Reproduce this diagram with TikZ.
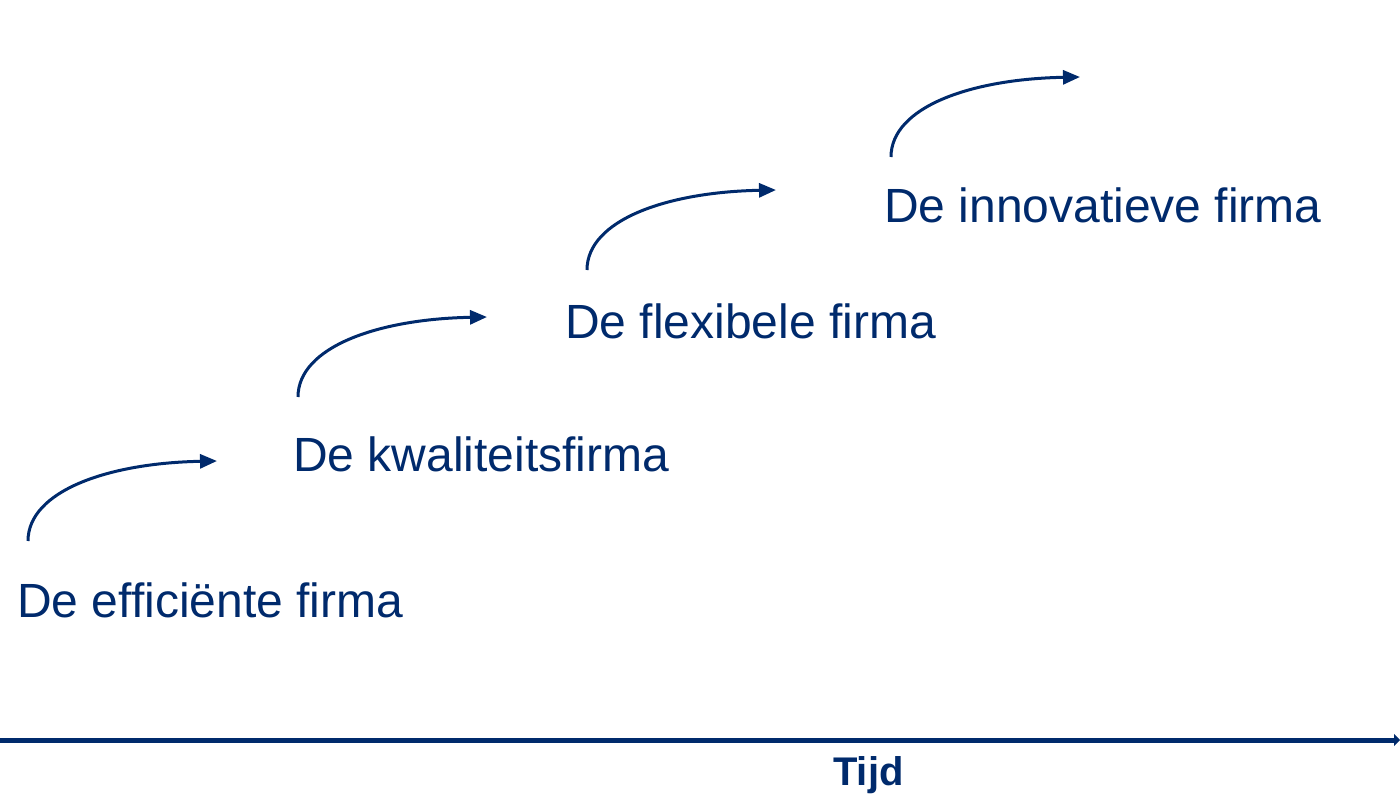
\documentclass[tikz,border=0pt]{standalone}
\usepackage{fontspec}
\setmainfont{Liberation Sans}
\usetikzlibrary{arrows.meta}
\definecolor{navy}{HTML}{002A6C}
\begin{document}
\begin{tikzpicture}[x=1pt,y=-1pt,
  lbl/.style={anchor=base west,inner sep=0pt,text=navy,font=\fontsize{48}{52}\selectfont},
  curvearrow/.style={draw=navy,line width=3pt,-{Triangle[length=17pt,width=14pt]}},
  axis/.style={draw=navy,line width=5pt,-{Triangle[length=6pt,width=12pt]}}]
\useasboundingbox (0,0) rectangle (1400,795);
\node[lbl] (n1) at (17,617) {De efficiënte firma};
\node[lbl] (n2) at (293,471) {De kwaliteitsfirma};
\node[lbl] (n3) at (565,338) {De flexibele firma};
\node[lbl] (n4) at (884,222) {De innovatieve firma};
\node[anchor=base west,inner sep=0pt,text=navy,font=\fontsize{40}{44}\selectfont\bfseries] (t) at (833,785) {Tijd};
\foreach \i/\x/\y in {1/28/541, 2/298/397, 3/587/270, 4/891/157} {
  \coordinate (s\i) at (\x,\y);
  \coordinate (e\i) at (\x+189,\y-80);
  \draw[curvearrow] (s\i) .. controls (\x,\y-50) and (\x+80,\y-78) .. (e\i);
}
\coordinate (a0) at (0,740);
\coordinate (a1) at (1400,740);
\draw[axis] (a0) -- (a1);
\end{tikzpicture}
\end{document}
